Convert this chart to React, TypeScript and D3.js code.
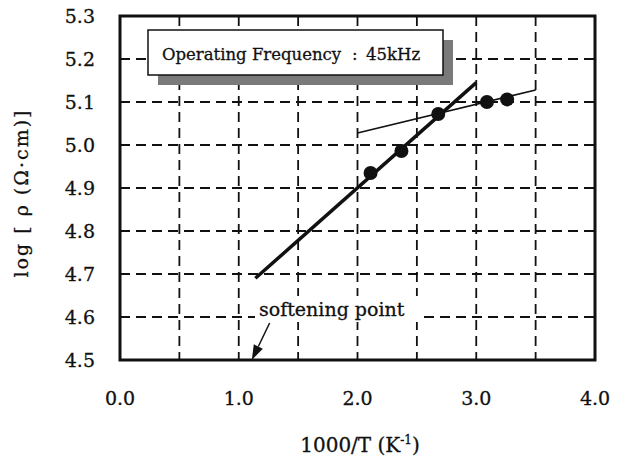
import { useRef, useEffect } from "react";
import * as d3 from "d3";

// measured points (1000/T, log rho)
const invTemp = [2.11, 2.37, 2.68, 3.09, 3.26];
const logRho = [4.935, 4.986, 5.072, 5.1, 5.106];

// fitted lines
const steepFit = [
  [1.14, 4.69],
  [3.0, 5.145],
];
const shallowFit = [
  [2.0, 5.028],
  [3.5, 5.128],
];

const xTicks = [0, 0.5, 1, 1.5, 2, 2.5, 3, 3.5, 4];
const xLabels = [0, 1, 2, 3, 4];
const yTicks = [4.5, 4.6, 4.7, 4.8, 4.9, 5.0, 5.1, 5.2, 5.3];

// softening point arrow (tail, tip)
const softArrow = [
  [1.26, 4.586],
  [1.11, 4.5],
];

const FONT = "'DejaVu Serif', serif";
const INK = "#111";

const App = () => {
  const svgRef = useRef<SVGSVGElement>(null);

  useEffect(() => {
    const width = 622;
    const height = 459;
    const left = 120;
    const right = 595;
    const top = 16;
    const bottom = 360;

    const svg = d3.select(svgRef.current);
    svg.selectAll("*").remove();
    svg.attr("width", width).attr("height", height);

    svg.append("rect").attr("width", width).attr("height", height).attr("fill", "#fff");

    const x = d3.scaleLinear().domain([0, 4]).range([left, right]);
    const y = d3.scaleLinear().domain([4.5, 5.3]).range([bottom, top]);

    const txt = (sel: any, size: number) =>
      sel
        .style("font-family", FONT)
        .style("font-size", `${size}px`)
        .attr("fill", INK)
        .attr("stroke", INK)
        .attr("stroke-width", 0.3);

    // dashed grid
    const grid = svg.append("g").attr("stroke", INK).attr("stroke-width", 1.8).attr("stroke-dasharray", "10,6");
    grid
      .selectAll("line.v")
      .data(xTicks.slice(1, -1))
      .join("line")
      .attr("class", "v")
      .attr("x1", (d) => x(d))
      .attr("x2", (d) => x(d))
      .attr("y1", top)
      .attr("y2", bottom);
    grid
      .selectAll("line.h")
      .data(yTicks.slice(1, -1))
      .join("line")
      .attr("class", "h")
      .attr("x1", left)
      .attr("x2", right)
      .attr("y1", (d) => y(d))
      .attr("y2", (d) => y(d));

    // legend box with shadow
    svg.append("rect").attr("x", 158).attr("y", 40).attr("width", 295).attr("height", 45).attr("fill", "#7a7a7a");
    svg
      .append("rect")
      .attr("x", 148)
      .attr("y", 30)
      .attr("width", 295)
      .attr("height", 45)
      .attr("fill", "#fff")
      .attr("stroke", INK)
      .attr("stroke-width", 1.5);
    const lg = txt(svg.append("text").attr("y", 60), 16.5);
    lg.append("tspan").attr("x", 162).text("Operating Frequency");
    lg.append("tspan").attr("x", 352).text(":");
    lg.append("tspan").attr("x", 366).text("45kHz");

    // softening point label on white background
    svg.append("rect").attr("x", 255).attr("y", 296).attr("width", 164).attr("height", 26).attr("fill", "#fff");
    txt(svg.append("text").attr("x", 259).attr("y", 316), 19).text("softening point");

    const [tail, tip] = softArrow;
    const ax0 = x(tail[0]);
    const ay0 = y(tail[1]);
    const ax1 = x(tip[0]);
    const ay1 = y(tip[1]);
    const ang = Math.atan2(ay1 - ay0, ax1 - ax0);
    const headLen = 15;
    const headW = 5;
    const bx = ax1 - headLen * Math.cos(ang);
    const by = ay1 - headLen * Math.sin(ang);
    svg
      .append("line")
      .attr("x1", ax0)
      .attr("y1", ay0)
      .attr("x2", bx)
      .attr("y2", by)
      .attr("stroke", INK)
      .attr("stroke-width", 1.5);
    svg
      .append("path")
      .attr(
        "d",
        `M${ax1},${ay1}L${bx + headW * Math.sin(ang)},${by - headW * Math.cos(ang)}L${bx - headW * Math.sin(ang)},${
          by + headW * Math.cos(ang)
        }Z`
      )
      .attr("fill", INK);

    // fit lines
    const line = d3
      .line<number[]>()
      .x((d) => x(d[0]))
      .y((d) => y(d[1]));
    svg.append("path").attr("d", line(steepFit)).attr("fill", "none").attr("stroke", INK).attr("stroke-width", 3.5);
    svg.append("path").attr("d", line(shallowFit)).attr("fill", "none").attr("stroke", INK).attr("stroke-width", 1.6);

    // points
    svg
      .selectAll("circle.pt")
      .data(invTemp.map((t, i) => [t, logRho[i]]))
      .join("circle")
      .attr("class", "pt")
      .attr("cx", (d) => x(d[0]))
      .attr("cy", (d) => y(d[1]))
      .attr("r", 7)
      .attr("fill", INK);

    // frame
    svg
      .append("rect")
      .attr("x", left)
      .attr("y", top)
      .attr("width", right - left)
      .attr("height", bottom - top)
      .attr("fill", "none")
      .attr("stroke", INK)
      .attr("stroke-width", 3);

    // tick labels
    txt(
      svg
        .selectAll("text.yl")
        .data(yTicks)
        .join("text")
        .attr("class", "yl")
        .attr("x", 95)
        .attr("y", (d) => y(d))
        .attr("dy", "0.36em")
        .attr("text-anchor", "end"),
      19
    ).text((d) => d.toFixed(1));

    txt(
      svg
        .selectAll("text.xl")
        .data(xLabels)
        .join("text")
        .attr("class", "xl")
        .attr("x", (d) => x(d))
        .attr("y", 405)
        .attr("text-anchor", "middle"),
      19
    ).text((d) => d.toFixed(1));

    // axis titles
    const xt = txt(svg.append("text").attr("x", 360).attr("y", 452).attr("text-anchor", "middle"), 20);
    xt.append("tspan").text("1000/T (K");
    xt.append("tspan").attr("dy", -8).style("font-size", "12px").text("-1");
    xt.append("tspan").attr("dy", 8).text(")");

    txt(
      svg
        .append("text")
        .attr("transform", "translate(28,193) rotate(-90)")
        .attr("text-anchor", "middle")
        .style("letter-spacing", "2px"),
      19
    ).text("log [ ρ (Ω·cm)]");
  }, []);

  return <svg ref={svgRef} style={{ position: "absolute", left: 0, top: 0 }}></svg>;
};

export default App;
